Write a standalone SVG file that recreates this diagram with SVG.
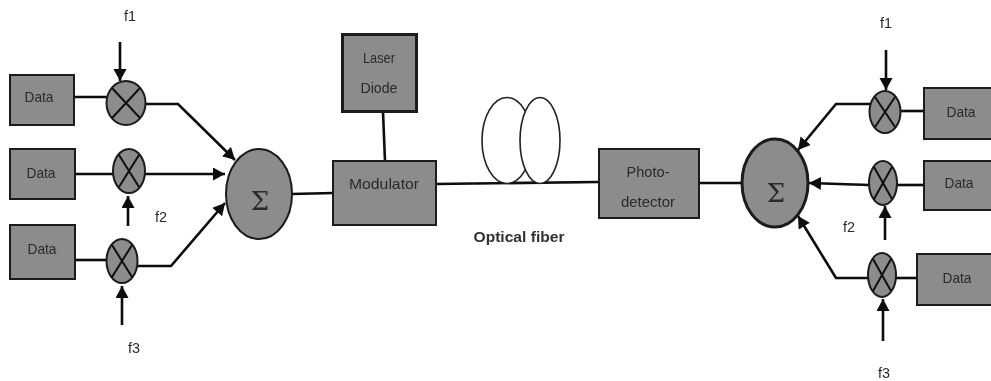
<svg xmlns="http://www.w3.org/2000/svg" width="991" height="381" viewBox="0 0 991 381">
<style>
.box{fill:#8c8c8c;stroke:#1a1a1a;stroke-width:2}
.thick{stroke-width:3}
.cross{stroke:#111;stroke-width:2;fill:none}
.con{stroke:#0a0a0a;stroke-width:2.6;fill:none}
.arr{marker-end:url(#ah)}
.loop{fill:#fff;stroke:#222;stroke-width:1.6}
text{font-family:"Liberation Sans",Arial,sans-serif;font-size:15px;fill:#2a2a2a;text-anchor:middle}
.sig{font-family:"DejaVu Serif",serif;font-size:26px;fill:#2a2a2a}
</style>
<defs>
<marker id="ah" markerUnits="userSpaceOnUse" markerWidth="14" markerHeight="14" refX="12" refY="6.5" orient="auto"><path d="M0 0L12 6.500L0 13Z" fill="#0a0a0a"/></marker>
<filter id="soft" x="-2%" y="-2%" width="104%" height="104%"><feGaussianBlur stdDeviation="0.75"/></filter>
</defs>
<rect width="991" height="381" fill="#fff"/>
<g filter="url(#soft)">
<g id="connectors">
<path class="con" d="M74 97H107"/>
<path class="con" d="M75 174H113"/>
<path class="con" d="M75 260H107"/>
<path class="con arr" d="M146 104H178L235 160"/>
<path class="con arr" d="M145 174H225"/>
<path class="con arr" d="M138 266H171L225 203"/>
<path class="con arr" d="M120 42V81"/>
<path class="con arr" d="M128 226V196"/>
<path class="con arr" d="M122 325V286"/>
<path class="con" d="M292 194L333 193"/>
<path class="con" d="M383 112L385 161"/>
<path class="con" d="M436 184L598 182"/>
<path class="con" d="M699 183H742"/>
<path class="con arr" d="M870 104H836L798 150"/>
<path class="con arr" d="M869 185L809 183"/>
<path class="con arr" d="M869 278H836L798 216"/>
<path class="con arr" d="M886 50V90"/>
<path class="con arr" d="M885 240V206"/>
<path class="con arr" d="M883 341V299"/>
<path class="con" d="M901 111H924"/>
<path class="con" d="M897 185H924"/>
<path class="con" d="M896 278H917"/>
</g>
<g id="data-l1"><rect class="box" x="10" y="75" width="64" height="50"/><text x="39" y="102" textLength="29" lengthAdjust="spacingAndGlyphs">Data</text></g>
<g id="data-l2"><rect class="box" x="10" y="149" width="65" height="50"/><text x="41" y="178" textLength="29" lengthAdjust="spacingAndGlyphs">Data</text></g>
<g id="data-l3"><rect class="box" x="10" y="225" width="65" height="54"/><text x="42" y="254" textLength="29" lengthAdjust="spacingAndGlyphs">Data</text></g>
<g id="mixer-l1"><ellipse class="box" cx="126" cy="103" rx="19.500" ry="22"/><path class="cross" d="M112 88L140 118M140 88L112 118"/></g>
<g id="mixer-l2"><ellipse class="box" cx="129" cy="171" rx="16" ry="22"/><path class="cross" d="M119 155L139 187M139 155L119 187"/></g>
<g id="mixer-l3"><ellipse class="box" cx="122" cy="261" rx="15.500" ry="22"/><path class="cross" d="M112 245L132 277M132 245L112 277"/></g>
<g id="sum-l"><ellipse class="box" cx="259" cy="194" rx="33" ry="45"/><text class="sig" x="260" y="210">Σ</text></g>
<g id="laser"><rect class="box thick" x="342.500" y="34.500" width="74" height="77"/><text x="379" y="63" textLength="32" lengthAdjust="spacingAndGlyphs">Laser</text><text x="379" y="93" textLength="37" lengthAdjust="spacingAndGlyphs">Diode</text></g>
<g id="modulator"><rect class="box" x="333" y="161" width="103" height="64"/><text x="384" y="189" textLength="70" lengthAdjust="spacingAndGlyphs">Modulator</text></g>
<g id="fiber"><ellipse class="loop" cx="507" cy="140.500" rx="25" ry="43"/><ellipse class="loop" cx="540" cy="140.500" rx="20" ry="43"/></g>
<g id="photodetector"><rect class="box" x="599" y="149" width="100" height="69"/><text x="648" y="177" textLength="43" lengthAdjust="spacingAndGlyphs">Photo-</text><text x="648" y="207" textLength="54" lengthAdjust="spacingAndGlyphs">detector</text></g>
<g id="sum-r"><ellipse class="box thick" cx="775" cy="183" rx="33" ry="44"/><text class="sig" x="776" y="202">Σ</text></g>
<g id="mixer-r1"><ellipse class="box" cx="885" cy="112" rx="15.500" ry="21"/><path class="cross" d="M875 97L895 127M895 97L875 127"/></g>
<g id="mixer-r2"><ellipse class="box" cx="883" cy="183" rx="14" ry="22"/><path class="cross" d="M874 167L892 199M892 167L874 199"/></g>
<g id="mixer-r3"><ellipse class="box" cx="882" cy="275" rx="14" ry="22"/><path class="cross" d="M873 259L891 291M891 259L873 291"/></g>
<g id="data-r1"><rect class="box" x="924" y="88" width="70" height="51"/><text x="961" y="117" textLength="29" lengthAdjust="spacingAndGlyphs">Data</text></g>
<g id="data-r2"><rect class="box" x="924" y="161" width="70" height="49"/><text x="959" y="188" textLength="29" lengthAdjust="spacingAndGlyphs">Data</text></g>
<g id="data-r3"><rect class="box" x="917" y="254" width="77" height="51"/><text x="957" y="283" textLength="29" lengthAdjust="spacingAndGlyphs">Data</text></g>
<g id="labels">
<text x="130" y="21" textLength="12" lengthAdjust="spacingAndGlyphs">f1</text>
<text x="161" y="222" textLength="12" lengthAdjust="spacingAndGlyphs">f2</text>
<text x="134" y="353" textLength="12" lengthAdjust="spacingAndGlyphs">f3</text>
<text x="886" y="28" textLength="12" lengthAdjust="spacingAndGlyphs">f1</text>
<text x="849" y="232" textLength="12" lengthAdjust="spacingAndGlyphs">f2</text>
<text x="884" y="378" textLength="12" lengthAdjust="spacingAndGlyphs">f3</text>
<text x="519" y="242" textLength="91" lengthAdjust="spacingAndGlyphs" style="font-weight:bold;fill:#333">Optical fiber</text>
</g>
</g>
</svg>
